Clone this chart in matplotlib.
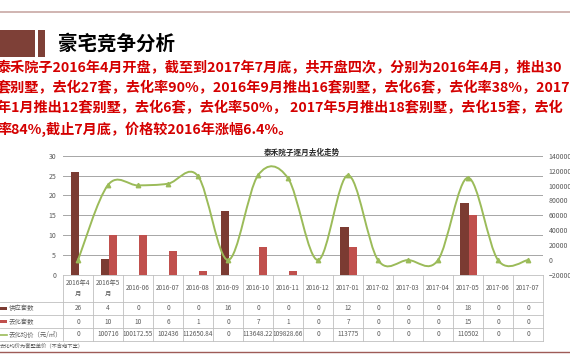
import numpy as np
import matplotlib
matplotlib.use("Agg")
import matplotlib.pyplot as plt
from matplotlib.path import Path
from matplotlib.patches import PathPatch, Rectangle
from matplotlib.lines import Line2D
import matplotlib.transforms as mtransforms

plt.rcParams['font.family'] = ['Noto Sans CJK SC', 'DejaVu Sans']

# data
months = ["2016年4\n月", "2016年5\n月", "2016-06", "2016-07", "2016-08", "2016-09",
          "2016-10", "2016-11", "2016-12", "2017-01", "2017-02", "2017-03",
          "2017-04", "2017-05", "2017-06", "2017-07"]
supply = [26, 4, 0, 0, 0, 16, 0, 0, 0, 12, 0, 0, 0, 18, 0, 0]
sold = [0, 10, 10, 6, 1, 0, 7, 1, 0, 7, 0, 0, 0, 15, 0, 0]
price = [0, 100716, 100172.55, 102436, 112650.84, 0, 113648.22, 109828.66,
         0, 113775, 0, 0, 0, 110502, 0, 0]
row_names = ["供应套数", "去化套数", "去化均价（元/㎡）"]

title = "豪宅竞争分析"
para = ["泰禾院子2016年4月开盘，截至到2017年7月底，共开盘四次，分别为2016年4月，推出30",
        "套别墅，去化27套，去化率90%，2016年9月推出16套别墅，去化6套，去化率38%，2017",
        "年1月推出12套别墅，去化6套，去化率50%， 2017年5月推出18套别墅，去化15套，去化",
        "率84%,截止7月底，价格较2016年涨幅6.4%。"]
chart_title = "泰禾院子逐月去化走势"
note = "去化均价为套墅单价（不含地下室）"

c_supply = "#7b3b32"
c_sold = "#c0504d"
c_price = "#9bbb59"
c_text = "#595959"

W, H = 570, 360
fig = plt.figure(figsize=(W / 100, H / 100), dpi=100)


def fx(x):
    return x / W


def fy(y):
    return 1 - y / H


# header decorations
fig.add_artist(Line2D([0, 1], [fy(12), fy(12)], color="#c8a8a4", lw=1.2))
fig.add_artist(Rectangle((fx(0), fy(57)), fx(35), 27 / H, color="#7e4037", lw=0))
fig.add_artist(Rectangle((fx(38), fy(57)), fx(7), 27 / H, color="#7e4037", lw=0))
fig.text(fx(58), fy(44), title, fontsize=14, fontweight="bold", color="black", va="center")

for i, line in enumerate(para):
    fig.text(fx(-3), fy(68 + 20.3 * i), line, fontsize=10.2, fontweight="bold",
             color="#d40000", va="center")

# chart
left, right, top, bottom = 63, 543, 155.7, 275
ax = fig.add_axes([fx(left), fy(bottom), fx(right - left), (bottom - top) / H])
x = np.arange(len(months))
bw = 0.28
ax.bar(x - bw / 2 + 0.03, supply, bw, color=c_supply, zorder=2)
ax.bar(x + bw / 2 + 0.03, sold, bw, color=c_sold, zorder=2)
ax.set_xlim(-0.5, len(months) - 0.5)
ax.set_ylim(0, 30)
ax.set_yticks(range(0, 31, 5))
ax.grid(axis="y", color="#a6a6a6", lw=0.7, zorder=0)
ax.set_axisbelow(True)
ax.set_xticks([])
ax.tick_params(axis="y", length=0, labelsize=5, labelcolor=c_text, pad=5)
for s in ax.spines.values():
    s.set_visible(False)

ax2 = ax.twinx()
ax2.set_ylim(-20000, 140000)
ax2.set_yticks(range(-20000, 140001, 20000))
ax2.tick_params(axis="y", length=0, labelsize=5, labelcolor=c_text, pad=4)
for s in ax2.spines.values():
    s.set_visible(False)

# smoothed line (bezier through points, like the spreadsheet smoothing)
n = len(price)
verts = [(x[0], price[0])]
codes = [Path.MOVETO]
for i in range(n - 1):
    a = max(i - 1, 0)
    b = min(i + 2, n - 1)
    c1 = (x[i] + (x[i + 1] - x[a]) / 6, price[i] + (price[i + 1] - price[a]) / 6)
    c2 = (x[i + 1] - (x[b] - x[i]) / 6, price[i + 1] - (price[b] - price[i]) / 6)
    verts += [c1, c2, (x[i + 1], price[i + 1])]
    codes += [Path.CURVE4] * 3
ax2.add_patch(PathPatch(Path(verts, codes), fill=False, edgecolor=c_price, lw=1.4, zorder=3))
ax2.plot(x, price, "^", color=c_price, ms=3.2, zorder=4)

fig.text(fx(302), fy(152), chart_title, fontsize=5.5, fontweight="bold",
         color="#262626", ha="center", va="center")

# data table under the chart
tr = mtransforms.blended_transform_factory(ax.transData, fig.transFigure)
row_y = [308, 321.7, 334.5]
hlines = [301.7, 315, 328.3, 341]
gc = "#bfbfbf"
for yy in hlines:
    fig.add_artist(Line2D([0, fx(right)], [fy(yy), fy(yy)], color=gc, lw=0.6))
fig.add_artist(Line2D([fx(left), fx(right)], [fy(bottom), fy(bottom)], color=gc, lw=0.6))
for k in range(len(months) + 1):
    fig.add_artist(Line2D([k - 0.5, k - 0.5], [fy(bottom), fy(341)], color=gc, lw=0.6,
                          transform=tr))

for k, m in enumerate(months):
    ax.text(k, fy(288.5), m, transform=tr, ha="center", va="center", fontsize=4.6,
            color=c_text, linespacing=1.6, clip_on=False)
    vals = [supply[k], sold[k], price[k]]
    for r, v in enumerate(vals):
        s = str(int(v)) if float(v).is_integer() else str(v)
        ax.text(k, fy(row_y[r]), s, transform=tr, ha="center", va="center", fontsize=4.6,
                color=c_text, clip_on=False)

# row labels with legend keys
fig.add_artist(Rectangle((fx(0), fy(row_y[0] + 1.5)), fx(7), 3 / H, color=c_supply, lw=0))
fig.add_artist(Rectangle((fx(0), fy(row_y[1] + 1.5)), fx(7), 3 / H, color=c_sold, lw=0))
fig.add_artist(Line2D([fx(0), fx(7)], [fy(row_y[2]), fy(row_y[2])], color=c_price, lw=1.2))
for r, name in enumerate(row_names):
    fig.text(fx(9), fy(row_y[r]), name, fontsize=4.6, color=c_text, va="center")

fig.text(fx(0), fy(347), note, fontsize=3.8, color=c_text, va="center")
fig.add_artist(Line2D([0, 1], [fy(351.5), fy(351.5)], color="#9e5b57", lw=1.0))

fig.savefig("out.png", dpi=100)
